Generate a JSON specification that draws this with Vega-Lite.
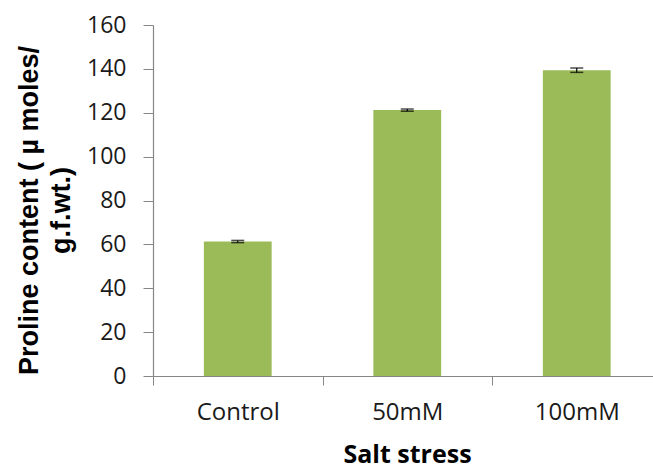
{
  "$schema": "https://vega.github.io/schema/vega-lite/v6.json",
  "width": 500,
  "height": 351,
  "autosize": "none",
  "padding": {"left": 153, "top": 25, "right": 0, "bottom": 92},
  "background": "white",
  "config": {"view": {"stroke": null}},
  "data": {"values": [
    {"stress": "Control", "proline": 61.3, "lo": 60.8, "hi": 61.8},
    {"stress": "50mM", "proline": 121.2, "lo": 120.7, "hi": 121.7},
    {"stress": "100mM", "proline": 139.4, "lo": 138.4, "hi": 140.4}
  ]},
  "encoding": {
    "x": {
      "field": "stress", "type": "nominal", "sort": null,
      "scale": {"range": [0, 508.5], "paddingInner": 0.6, "paddingOuter": 0.3},
      "axis": {
        "title": "Salt stress", "titleFont": "Open Sans", "titleFontSize": 25, "titleFontWeight": "bold",
        "titleColor": "#000000", "titleX": 254, "titleY": 86, "titleBaseline": "alphabetic", "titleAnchor": "middle",
        "labelAngle": 0, "labelFont": "Open Sans", "labelFontSize": 24, "labelColor": "#1a1a1a",
        "labelPadding": 15, "tickOffset": -84.75, "labelOffset": 84.75, "tickSize": 9, "tickColor": "#868686",
        "domainColor": "#868686", "tickWidth": 1, "domainWidth": 1.2
      }
    }
  },
  "layer": [
    {
      "mark": {"type": "bar", "color": "#9BBB59"},
      "encoding": {
        "y": {
          "field": "proline", "type": "quantitative",
          "scale": {"domain": [0, 160]},
          "axis": {
            "values": [0, 20, 40, 60, 80, 100, 120, 140, 160],
            "grid": false,
            "title": ["Proline content ( µ moles/", "g.f.wt.)"],
            "titleFont": "Liberation Sans", "titleFontSize": 27, "titleFontWeight": "bold",
            "titleColor": "#000000", "titleAngle": -90, "titleAnchor": "middle",
            "titleX": -137, "titleY": 185, "titleBaseline": "top", "titleLineHeight": 32,
            "labelFont": "Open Sans", "labelFontSize": 23, "labelColor": "#1a1a1a",
            "labelPadding": 17, "tickSize": 10, "tickColor": "#868686", "domainColor": "#868686",
            "domainWidth": 1.2
          }
        }
      }
    },
    {
      "mark": {"type": "rule", "color": "#000000", "strokeWidth": 1.2},
      "encoding": {
        "y": {"field": "lo", "type": "quantitative"},
        "y2": {"field": "hi"}
      }
    },
    {
      "mark": {"type": "tick", "color": "#000000", "size": 13, "thickness": 1.5},
      "encoding": {"y": {"field": "lo", "type": "quantitative"}}
    },
    {
      "mark": {"type": "tick", "color": "#000000", "size": 13, "thickness": 1.5},
      "encoding": {"y": {"field": "hi", "type": "quantitative"}}
    }
  ]
}
